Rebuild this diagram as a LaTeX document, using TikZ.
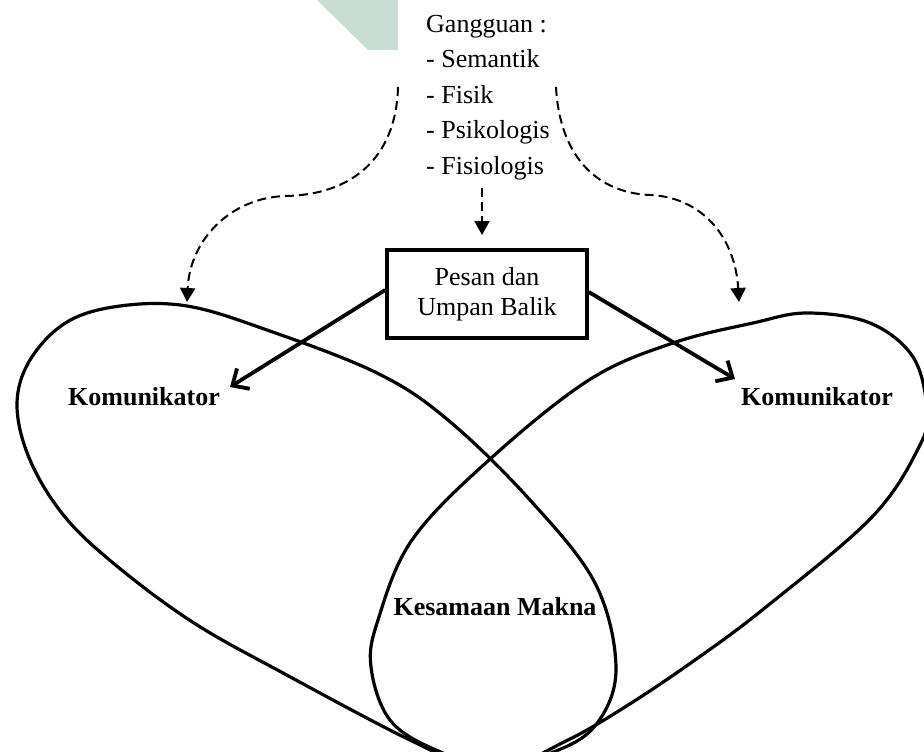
\documentclass[tikz,border=0pt]{standalone}
\usepackage{fontspec}
\setmainfont{Liberation Serif}
\usetikzlibrary{arrows.meta}
\definecolor{mint}{RGB}{201,222,210}
\begin{document}
\begin{tikzpicture}[x=1pt,y=-1pt,
  txt/.style={font=\fontsize{26}{30}\selectfont, inner sep=0pt},
  boldtxt/.style={font=\fontsize{26}{30}\selectfont\bfseries, inner sep=0pt},
  petal/.style={line width=3.2pt},
  dasharrow/.style={line width=2pt, dash pattern=on 9pt off 5pt, -{Triangle[length=14pt,width=15pt]}},
  msgarrow/.style={line width=3.8pt, -{Straight Barb[length=13pt,width=24pt,line width=3.8pt]}}]
\useasboundingbox (0,0) rectangle (924,752);
% watermark
\fill[mint] (317,0) -- (398,0) -- (398,50) -- (368,50) -- cycle;
% petals
\begin{scope}
\clip (0,0) rectangle (924,752);
\draw[petal] plot[smooth cycle, tension=0.6] coordinates {(482,768) (412,741) (283,673) (194,623) (118,567) (65,517) (30,460) (17,405) (30,360) (67,322) (120,306) (187,306) (267,330) (377,373) (448,420) (530,500) (595,583) (616,667) (598,722) (556,751)};
\draw[petal] plot[smooth cycle, tension=0.6] coordinates {(500,768) (436,750) (390,720) (371,667) (378,620) (412,540) (489,460) (589,380) (673,343) (753,323) (807,313) (870,323) (913,357) (927,410) (919,447) (872,517) (766,607) (695,660) (625,707) (566,741)};
\end{scope}
% text list
\node[txt, anchor=base west] (g0) at (426,33) {Gangguan :};
\node[txt, anchor=base west] (g1) at (426,68) {- Semantik};
\node[txt, anchor=base west] (g2) at (426,103) {- Fisik};
\node[txt, anchor=base west] (g3) at (426,138) {- Psikologis};
\node[txt, anchor=base west] (g4) at (426,174) {- Fisiologis};
% box
\node[txt, draw, line width=3.5pt, minimum width=200pt, minimum height=88pt, align=center] (box) at (487,294) {Pesan dan\\Umpan Balik};
% labels
\node[boldtxt, anchor=base] (kom1) at (144,405) {Komunikator};
\node[boldtxt, anchor=base] (kom2) at (817,405) {Komunikator};
\node[boldtxt, anchor=base] (makna) at (495,615) {Kesamaan Makna};
% coordinates
\coordinate (ls) at (398,87);
\coordinate (lm) at (285,196);
\coordinate (lt) at (187,302);
\coordinate (rs) at (556,87);
\coordinate (rm) at (650,195);
\coordinate (rt) at (739,302);
\coordinate (cs) at (482,188);
\coordinate (ct) at (482,235);
\coordinate (t1) at (230,387);
\coordinate (t2) at (735,379);
% dashed arrows
\draw[dasharrow] (ls) .. controls (396,160) and (350,195) .. (lm) .. controls (230,198) and (190,240) .. (lt);
\draw[dasharrow] (rs) .. controls (560,160) and (600,193) .. (rm) .. controls (700,197) and (735,235) .. (rt);
\draw[dasharrow] (cs) -- (ct);
% message arrows
\draw[msgarrow] ([yshift=4pt]box.west) -- (t1);
\draw[msgarrow] ([yshift=2pt]box.east) -- (t2);
\end{tikzpicture}
\end{document}
